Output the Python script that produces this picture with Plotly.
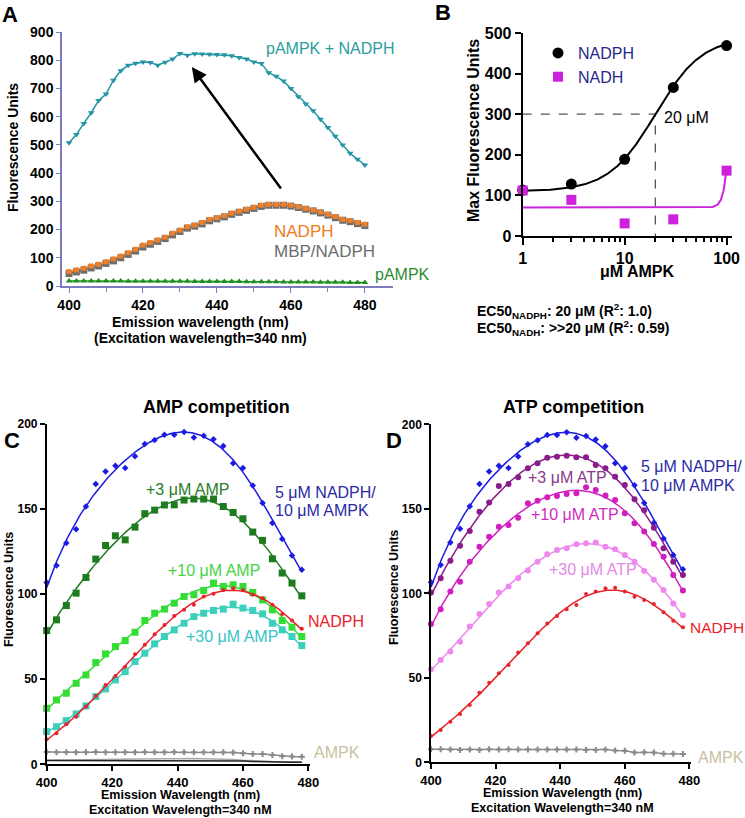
import numpy as np
import plotly.graph_objects as go

FONT = "Liberation Sans, Arial, Helvetica, sans-serif"
W, H = 745, 818

# ---------------- Panel A data ----------------
A_wavelength = list(range(400, 482, 2))
A_pampk_nadph = [508, 537, 576, 614, 657, 680, 729, 763, 782, 789,
                 794, 792, 782, 793, 804, 824, 818, 823, 822, 821,
                 820, 819, 816, 810, 804, 794, 788, 756, 743, 726,
                 700, 671, 645, 621, 591, 562, 531, 500, 470, 449, 429]
A_nadph = [51, 57, 63, 71, 77, 86, 96, 106, 118, 130,
           145, 154, 163, 173, 187, 198, 210, 216, 225, 236,
           242, 249, 258, 265, 272, 279, 286, 289, 289, 289,
           286, 281, 275, 269, 262, 254, 246, 236, 232, 225, 219]
A_mbp_nadph = [44, 50, 56, 64, 71, 80, 89, 100, 112, 124,
               138, 148, 158, 168, 181, 193, 205, 212, 220, 231,
               238, 245, 254, 261, 268, 275, 282, 286, 286, 286,
               283, 278, 272, 266, 259, 251, 242, 233, 228, 221, 214]
A_pampk = [18, 18, 18, 18, 18, 18, 18, 18, 17, 17,
           17, 17, 17, 17, 17, 17, 17, 16, 16, 16,
           16, 16, 16, 16, 15, 15, 15, 15, 15, 14,
           14, 14, 14, 14, 13, 13, 13, 13, 12, 12, 12]
A_xticks = [400, 420, 440, 460, 480]
A_arrow_tail = (457.6, 340)
A_arrow_head = (433.2, 776)

# ---------------- Panel B data ----------------
B_ampk_um = [1, 3, 10, 30, 100]
B_nadph = [113, 128, 189, 366, 469]
B_nadh = [112, 89, 31, 41, 161]
B_fit_nadph = dict(bottom=110, top=490, ec50=20, hill=1.9)
B_fit_nadh = dict(bottom=70, top=2000, ec50=125, hill=13)
B_ec50 = 20
B_ec50_level = 300
B_xticks = [1, 10, 100]
B_minor = [2, 3, 4, 5, 6, 7, 8, 9, 20, 30, 40, 50, 60, 70, 80, 90]

# ---------------- Panel C data ----------------
C_wavelength = list(range(400, 481, 3))
C_ctrl = [106.8, 116.8, 130, 138.2, 151.5, 164.7, 172.1, 175.5, 174.1, 181,
          188.2, 190.6, 193.7, 193.7, 195.3, 192.1, 193.1, 191, 187, 177,
          174.1, 163.9, 153.5, 141.8, 132.4, 122.7, 114.3]
C_amp3 = [78.6, 84.9, 93.3, 100.6, 109.8, 120.6, 128.6, 134.3, 131.9, 139.4,
          147.3, 149.4, 152.4, 152.5, 155.3, 155.9, 155.9, 155.9, 151.5, 148,
          144.3, 136.5, 131.6, 120.8, 112.4, 106.5, 99]
C_amp10 = [32.9, 37.8, 41.8, 47.6, 52.5, 59.8, 64.9, 69.2, 72.7, 77.6,
           84.5, 88.8, 91.2, 94.7, 98.6, 99.6, 102.1, 106.5, 104.5, 105.5,
           104.5, 101, 96.6, 90.8, 84.5, 80.6, 75.1]
C_amp30 = [19.2, 22.1, 25.7, 29.6, 34.3, 39.8, 44.3, 49.6, 54.5, 60.4,
           65.3, 70.8, 75.1, 79, 82.9, 86.8, 88.8, 90.4, 91.2, 94.1,
           91.8, 90.4, 88.4, 82.9, 79, 75.1, 69.8]
C_nadph = [14.7, 18.2, 23.5, 28, 33.9, 40.2, 46.6, 51.9, 57.4, 64.7,
           70.2, 76.5, 81.9, 87.2, 90.8, 93.7, 98.6, 100.2, 102.5, 103.5,
           102.5, 99.6, 97.6, 93.7, 88.4, 84.5, 79.6]
C_ampk = [7.3, 7.1, 7.1, 7.1, 7.1, 7.3, 7.1, 7.1, 7.1, 7.1,
          7.3, 7.1, 7.1, 7.3, 7.1, 7.1, 7.1, 7.1, 7.1, 7.0,
          6.5, 6.0, 6.0, 5.5, 4.8, 4.6, 4.5]
C_blank1 = [2.2, 2.2, 2.2, 2.2, 2.2, 2.2, 2.2, 2.2, 2.2, 2.2,
            2.2, 2.2, 2.2, 2.2, 2.2, 2.2, 2.2, 2.2, 2.1, 2.0,
            1.9, 1.7, 1.5, 1.4, 1.3, 1.2, 1.2]
C_blank2 = [2.4, 2.4, 2.4, 2.5, 2.6, 2.7, 2.8, 2.9, 3.0, 3.1,
            3.2, 3.3, 3.4, 3.4, 3.4, 3.4, 3.3, 3.2, 3.0, 2.8,
            2.4, 2.0, 1.8, 1.6, 1.5, 1.4, 1.3]

# ---------------- Panel D data ----------------
D_wavelength = list(range(400, 481, 3))
D_ctrl = [106.5, 116.8, 130, 138.2, 151.5, 164.7, 172.1, 175.5, 174.1, 181,
          188.2, 190.6, 193.7, 193.7, 195.3, 192.1, 193.1, 191, 187, 177,
          174.1, 163.9, 153.5, 141.8, 132.4, 122.7, 114.3]
D_atp3 = [100.4, 108.9, 119.3, 128.2, 136.9, 148.3, 153.8, 163.5, 164.7, 168.6,
          174, 176.9, 180.2, 180.8, 181.4, 180.5, 180.5, 175.9, 174, 169,
          164.1, 155.6, 149.1, 138.8, 126.6, 118.7, 110.8]
D_atp10 = [81.8, 90.5, 101, 106.9, 118.7, 127.6, 133.5, 139.4, 140.4, 144.7,
           153.3, 154.8, 156.8, 157.6, 158.8, 159.2, 162.7, 161.1, 157.8, 155.2,
           147.3, 141.4, 136.5, 129.2, 121.7, 110.8, 101.6]
D_atp30 = [55, 60.5, 65.5, 71.4, 80.3, 87.8, 93.7, 100.4, 104, 109,
           113.5, 118.7, 123.1, 125.6, 126.6, 129, 129.6, 130, 127.6, 126,
           122.7, 118.7, 113.2, 108, 102, 94, 87]
D_nadph = [15.6, 19.1, 24, 28.6, 33.9, 41.2, 47.1, 52.7, 57.6, 64.9,
           70.4, 76.3, 82.2, 86.6, 90.5, 93.1, 99.6, 101, 103, 103.3,
           101, 98, 96, 93.7, 88.8, 83.8, 79.9]
D_ampk = [7.7, 7.7, 7.5, 7.3, 7.5, 7.3, 7.7, 7.5, 7.7, 7.5,
          7.5, 7.5, 7.5, 7.5, 7.5, 7.5, 7.3, 7.3, 7.5, 7.0,
          6.8, 5.8, 6.0, 5.8, 5.0, 5.0, 4.9]
CD_xticks = [400, 420, 440, 460, 480]


# ---------------- helpers (page pixel -> paper) ----------------
def px_x(px):
    return px / W


def px_y(py):
    return 1 - py / H


def xdom(x0, x1):
    return [px_x(x0), px_x(x1)]


def ydom(top, bottom):
    return [px_y(bottom), px_y(top)]


def poly_fit(x, y, deg=5, n=200):
    p = np.polynomial.Polynomial.fit(x, y, deg)
    xf = np.linspace(min(x), max(x), n)
    return xf, p(xf)


def hill(x, bottom, top, ec50, hill):
    return bottom + (top - bottom) / (1 + (ec50 / x) ** hill)


annotations = []


def label(px, py, text, size=16, color="black", bold=False, xanchor="left",
          yanchor="middle", angle=0, align="left"):
    annotations.append(dict(
        x=px_x(px), y=px_y(py), xref="paper", yref="paper", text=text,
        showarrow=False, xanchor=xanchor, yanchor=yanchor, textangle=angle,
        align=align, borderpad=0,
        font=dict(family=FONT, size=size, color=color,
                  weight="bold" if bold else "normal")))


fig = go.Figure()

# ---------------- Panel A traces ----------------
TEAL = "#2596a6"
fig.add_trace(go.Scatter(x=A_wavelength, y=A_pampk_nadph, mode="lines+markers",
                         line=dict(color=TEAL, width=1.5),
                         marker=dict(symbol="triangle-down", size=6, color=TEAL),
                         xaxis="x", yaxis="y", showlegend=False, cliponaxis=False))
fig.add_trace(go.Scatter(x=A_wavelength, y=A_mbp_nadph, mode="lines+markers",
                         line=dict(color="#6d6d6d", width=1.2),
                         marker=dict(symbol="square", size=7, color="#6d6d6d"),
                         xaxis="x", yaxis="y", showlegend=False, cliponaxis=False))
fig.add_trace(go.Scatter(x=A_wavelength, y=A_nadph, mode="lines+markers",
                         line=dict(color="#f07f2a", width=1.2),
                         marker=dict(symbol="square", size=5, color="#f07f2a"),
                         xaxis="x", yaxis="y", showlegend=False, cliponaxis=False))
fig.add_trace(go.Scatter(x=A_wavelength, y=A_pampk, mode="lines+markers",
                         line=dict(color="#1f8f1f", width=1.5),
                         marker=dict(symbol="triangle-up", size=6, color="#1f8f1f"),
                         xaxis="x", yaxis="y", showlegend=False, cliponaxis=False))
annotations.append(dict(x=A_arrow_head[0], y=A_arrow_head[1], ax=A_arrow_tail[0],
                        ay=A_arrow_tail[1], xref="x", yref="y", axref="x", ayref="y",
                        showarrow=True, arrowhead=2, arrowsize=1.2, arrowwidth=2.5,
                        arrowcolor="black", text=""))

# ---------------- Panel B traces ----------------
MAG = "#cc22dd"
xb = np.logspace(0, 2, 300)
fig.add_trace(go.Scatter(x=[1, B_ec50, B_ec50], y=[B_ec50_level, B_ec50_level, 0],
                         mode="lines", line=dict(color="#555555", width=1.3, dash="dash"),
                         xaxis="x2", yaxis="y2", showlegend=False, hoverinfo="skip"))
fig.add_trace(go.Scatter(x=xb, y=hill(xb, **B_fit_nadph), mode="lines",
                         line=dict(color="black", width=2),
                         xaxis="x2", yaxis="y2", showlegend=False))
fig.add_trace(go.Scatter(x=xb, y=hill(xb, **B_fit_nadh), mode="lines",
                         line=dict(color=MAG, width=2),
                         xaxis="x2", yaxis="y2", showlegend=False))
fig.add_trace(go.Scatter(x=B_ampk_um, y=B_nadph, mode="markers", name="NADPH",
                         marker=dict(symbol="circle", size=11, color="black"),
                         xaxis="x2", yaxis="y2", cliponaxis=False))
fig.add_trace(go.Scatter(x=B_ampk_um, y=B_nadh, mode="markers", name="NADH",
                         marker=dict(symbol="square", size=10, color=MAG),
                         xaxis="x2", yaxis="y2", cliponaxis=False))


# ---------------- Panel C / D traces ----------------
def fitted_series(x, y, color, symbol, size, xa, ya):
    xf, yf = poly_fit(x, y)
    fig.add_trace(go.Scatter(x=xf, y=yf, mode="lines", line=dict(color=color, width=1.5),
                             xaxis=xa, yaxis=ya, showlegend=False, hoverinfo="skip"))
    fig.add_trace(go.Scatter(x=x, y=y, mode="markers",
                             marker=dict(symbol=symbol, size=size, color=color),
                             xaxis=xa, yaxis=ya, showlegend=False, cliponaxis=False))


BLUE = "#1c1ce0"
RED = "#e8222a"
GRAY = "#8a8a8a"

fig.add_trace(go.Scatter(x=C_wavelength, y=C_blank2, mode="lines",
                         line=dict(color="#aaaaaa", width=1.5),
                         xaxis="x3", yaxis="y3", showlegend=False))
fig.add_trace(go.Scatter(x=C_wavelength, y=C_blank1, mode="lines",
                         line=dict(color="#222222", width=1.5),
                         xaxis="x3", yaxis="y3", showlegend=False))
fitted_series(C_wavelength, C_ctrl, BLUE, "diamond", 5, "x3", "y3")
fitted_series(C_wavelength, C_amp3, "#1e7b1e", "square", 7, "x3", "y3")
fitted_series(C_wavelength, C_amp10, "#33dd33", "square", 7, "x3", "y3")
fitted_series(C_wavelength, C_amp30, "#3cd0bc", "square", 7, "x3", "y3")
fitted_series(C_wavelength, C_nadph, RED, "circle", 4, "x3", "y3")
fig.add_trace(go.Scatter(x=C_wavelength, y=C_ampk, mode="lines+markers",
                         line=dict(color=GRAY, width=1.5),
                         marker=dict(symbol="cross", size=5, color=GRAY),
                         xaxis="x3", yaxis="y3", showlegend=False, cliponaxis=False))

fitted_series(D_wavelength, D_ctrl, BLUE, "diamond", 5, "x4", "y4")
fitted_series(D_wavelength, D_atp3, "#8b1c8b", "circle", 6, "x4", "y4")
fitted_series(D_wavelength, D_atp10, "#d11fbf", "circle", 6, "x4", "y4")
fitted_series(D_wavelength, D_atp30, "#ee88ee", "circle", 6, "x4", "y4")
fitted_series(D_wavelength, D_nadph, RED, "circle", 4, "x4", "y4")
fig.add_trace(go.Scatter(x=D_wavelength, y=D_ampk, mode="lines+markers",
                         line=dict(color=GRAY, width=1.5),
                         marker=dict(symbol="cross", size=5, color=GRAY),
                         xaxis="x4", yaxis="y4", showlegend=False, cliponaxis=False))

# ---------------- text ----------------
label(1, 15, "A", 22, bold=True)
label(434, 13, "B", 22, bold=True)
label(3, 441, "C", 22, bold=True)
label(385, 441, "D", 22, bold=True)

# Panel A texts
label(265, 49, "pAMPK + NADPH", 16, "#2a9d9d")
label(273, 231, "NADPH", 17, "#f07b22")
label(273, 252, "MBP/NADPH", 17, "#6d6d6d")
label(374, 274, "pAMPK", 16, "#2e8b2e")
label(200, 322, "Emission wavelength (nm)", 14, bold=True, xanchor="center")
label(200, 338, "(Excitation wavelength=340 nm)", 14, bold=True, xanchor="center")
label(13, 148, "Fluorescence Units", 14, bold=True, xanchor="center", angle=-90)

# Panel B texts
label(663, 117, "20 μM", 16)
label(473, 131, "Max Fluorescence Units", 16, bold=True, xanchor="center", angle=-90)
label(637, 271, "μM AMPK", 16, bold=True, xanchor="center")
label(476, 311, "EC50<sub>NADPH</sub>: 20 μM (R<sup>2</sup>: 1.0)", 14, bold=True)
label(476, 328, "EC50<sub>NADH</sub>: >>20 μM (R<sup>2</sup>: 0.59)", 14, bold=True)

# Panel C texts
label(217, 407, "AMP competition", 18, bold=True, xanchor="center")
label(145, 489, "+3 μM AMP", 16, "#2a7d2a")
label(274, 492, "5 μM NADPH/", 16, "#2a2aa5")
label(274, 511, "10 μM AMPK", 16, "#2a2aa5")
label(167, 570, "+10 μM AMP", 16, "#44d444")
label(307, 621, "NADPH", 16, RED)
label(185, 636, "+30 μM AMP", 16, "#36c3c9")
label(313, 752, "AMPK", 16, "#c8bfa0")
label(180, 795, "Emission Wavelength (nm)", 12.5, bold=True, xanchor="center")
label(180, 810, "Excitation Wavelength=340 nM", 12.5, bold=True, xanchor="center")
label(9, 590, "Fluorescence Units", 12.5, bold=True, xanchor="center", angle=-90)

# Panel D texts
label(573, 407, "ATP competition", 18, bold=True, xanchor="center")
label(640, 466, "5 μM NADPH/", 16, "#2a2aa5")
label(640, 485, "10 μM AMPK", 16, "#2a2aa5")
label(527, 477, "+3 μM ATP", 16, "#8b3a8b")
label(530, 514, "+10 μM ATP", 16, "#d02ac0")
label(548, 569, "+30 μM ATP", 16, "#e58ae5")
label(689, 627, "NADPH", 15.5, RED)
label(697, 757, "AMPK", 16, "#c8bfa0")
label(562, 793, "Emission Wavelength (nm)", 12.5, bold=True, xanchor="center")
label(562, 808, "Excitation Wavelength=340 nM", 12.5, bold=True, xanchor="center")
label(394, 588, "Fluorescence Units", 12.5, bold=True, xanchor="center", angle=-90)

# ---------------- axes ----------------
AXC = "#7b7bbd"


def tf(size):
    return dict(family=FONT, size=size, color="black", weight="bold")


common = dict(showgrid=False, zeroline=False, showline=True, ticks="outside",
              automargin=False)

layout = dict(
    width=W, height=H, autosize=False,
    margin=dict(l=0, r=0, t=0, b=0, pad=0),
    paper_bgcolor="white", plot_bgcolor="rgba(0,0,0,0)",
    font=dict(family=FONT),
    annotations=annotations,
    legend=dict(x=px_x(538), y=px_y(36), xanchor="left", yanchor="top",
                bgcolor="rgba(0,0,0,0)", itemsizing="trace", tracegroupgap=0,
                font=dict(family=FONT, size=16, color="#27288a")),
    xaxis=dict(domain=xdom(62, 393), range=[398.1, 487.6], anchor="y",
               tickvals=A_xticks, ticklen=5, tickcolor=AXC, linecolor=AXC, linewidth=1.5,
               tickfont=tf(14),
               minor=dict(dtick=10, tick0=400, ticks="outside", ticklen=4, tickcolor=AXC),
               **common),
    yaxis=dict(domain=ydom(32, 286), range=[0, 900], anchor="x", dtick=100,
               ticklen=4, tickcolor=AXC, linecolor=AXC, linewidth=1.5,
               tickfont=tf(14), **common),
    xaxis2=dict(domain=xdom(522.7, 731.7), type="log", range=[0, 2.05], anchor="y2",
                tickvals=B_xticks, ticktext=[str(v) for v in B_xticks],
                ticklen=7, tickwidth=2, tickcolor="black", linecolor="black", linewidth=2,
                tickfont=tf(16),
                minor=dict(tickvals=B_minor, ticks="outside", ticklen=4, tickwidth=1.5,
                           tickcolor="black"),
                **common),
    yaxis2=dict(domain=ydom(33, 236), range=[0, 500], anchor="x2", dtick=100,
                ticklen=6, tickwidth=2, tickcolor="black", linecolor="black", linewidth=2,
                tickfont=tf(16), **common),
    xaxis3=dict(domain=xdom(46.7, 310), range=[400, 480.5], anchor="y3",
                tickvals=CD_xticks, ticklen=5, tickwidth=1.5, tickcolor="black",
                linecolor="black", linewidth=1.5, tickfont=tf(13), **common),
    yaxis3=dict(domain=ydom(424, 764.3), range=[0, 200], anchor="x3", dtick=50,
                ticklen=5, tickwidth=1.5, tickcolor="black", linecolor="black",
                linewidth=1.5, tickfont=tf(12), **common),
    xaxis4=dict(domain=xdom(431, 690.7), range=[400, 480.4], anchor="y4",
                tickvals=CD_xticks, ticklen=5, tickwidth=1.5, tickcolor="black",
                linecolor="black", linewidth=1.5, tickfont=tf(13), **common),
    yaxis4=dict(domain=ydom(424.3, 762.3), range=[0, 200], anchor="x4", dtick=50,
                ticklen=5, tickwidth=1.5, tickcolor="black", linecolor="black",
                linewidth=1.5, tickfont=tf(12), **common),
)
fig.update_layout(**layout)

# remove the browser's default 8px body margin so the 745x818 figure fills the page
fig.write_html("out.html",
               config={"displayModeBar": False},
               post_script="document.body.style.margin='0';"
                           "document.body.style.padding='0';"
                           "document.body.style.overflow='hidden';")
